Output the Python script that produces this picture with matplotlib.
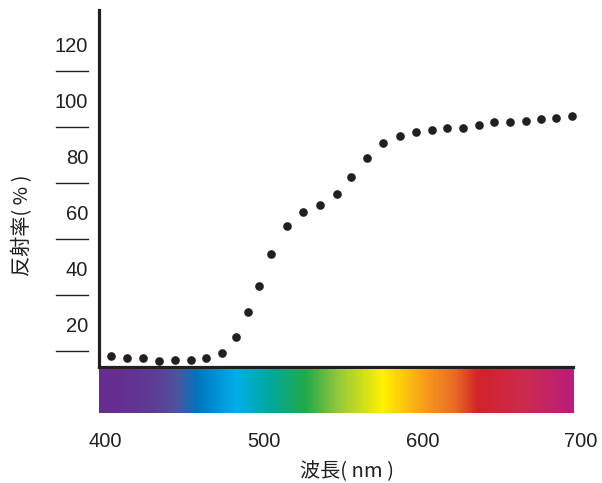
import matplotlib.pyplot as plt
import numpy as np
from matplotlib.colors import LinearSegmentedColormap
from matplotlib.transforms import blended_transform_factory

# measured reflectance (%) against wavelength (nm)
wavelength = [404, 414, 424, 434, 444, 454, 463.5, 474, 482.5, 490, 497,
              504.5, 514.5, 525, 535.5, 546, 555, 565, 575, 586, 596, 606,
              615.5, 625.5, 635.5, 645, 655.5, 665, 675, 684.5, 694]
reflectance = [8.7, 7.9, 8.1, 7.0, 7.1, 7.25, 8.1, 9.9, 15.6, 24.4, 33.8,
               45.0, 55.2, 60.0, 62.6, 66.5, 72.7, 79.3, 84.7, 87.4, 88.7,
               89.3, 90.0, 90.2, 91.1, 92.2, 92.4, 92.6, 93.2, 93.7, 94.4]

y_ticks = [20, 40, 60, 80, 100, 120]
x_ticks = [400, 500, 600, 700]

# colour band under the axis
band_nm = [394, 406, 430, 445, 457, 482, 503, 526, 545, 575, 604, 621, 635, 667, 695]
band_col = ['#662d91', '#662d91', '#5e3c94', '#4d55a0', '#0075bd', '#00aee8',
            '#00a99d', '#22a84a', '#8dc63f', '#fff200', '#f7941d', '#e86a27',
            '#d2232a', '#cb2a52', '#b91e7b']

ink = '#231f20'
cjk = ['Noto Sans CJK JP', 'DejaVu Sans']
plt.rcParams['font.family'] = ['Liberation Sans', 'DejaVu Sans']

x0, x1, xend = 396, 705, 695

fig = plt.figure(figsize=(6.02, 4.83), dpi=100)
ax = fig.add_axes([98.5 / 602, 116 / 483, (589 - 98.5) / 602, 357 / 483])
band = fig.add_axes([98.5 / 602, (483 - 413.3) / 483, (589 - 98.5) / 602, 44.8 / 483])

# spectrum band
lo, hi = band_nm[0], band_nm[-1]
cmap = LinearSegmentedColormap.from_list(
    'spec', [((w - lo) / (hi - lo), c) for w, c in zip(band_nm, band_col)])
grad = np.linspace(0, 1, 600)[None, :]
band.imshow(grad, aspect='auto', cmap=cmap, extent=[lo, hi, 0, 1])
band.set_xlim(x0, x1)
band.set_ylim(0, 1)
band.set_axis_off()

# data points
ax.plot(wavelength, reflectance, 'o', color=ink, markersize=5.2, clip_on=False)

ax.set_xlim(x0, x1)
ax.set_ylim(4.75, 132.25)
for s in ['top', 'right']:
    ax.spines[s].set_visible(False)
for s in ['left', 'bottom']:
    ax.spines[s].set_linewidth(2.3)
    ax.spines[s].set_color(ink)
ax.spines['bottom'].set_bounds(x0, xend)

ax.set_yticks(y_ticks)
ax.set_yticklabels([str(v) for v in y_ticks])
ax.set_xticks(x_ticks)
ax.set_xticklabels([str(v) for v in x_ticks])
ax.tick_params(axis='y', length=0, pad=7.5, labelsize=14.5, labelcolor=ink)
ax.tick_params(axis='x', length=0, pad=47, labelsize=14.5, labelcolor=ink)

# detached tick dashes between the labels
trans = blended_transform_factory(ax.transAxes, ax.transData)
for v in y_ticks:
    ax.plot([-0.0866, -0.0214], [v - 9.5, v - 9.5], color=ink, lw=1.0,
            transform=trans, clip_on=False)

fig.text(22.5 / 602, (483 - 225) / 483, '反射率( % )', rotation=90,
         ha='center', va='center', fontsize=14.5, color=ink, family=cjk)
fig.text(347.5 / 602, 11 / 483, '波長( nm )', ha='center', va='center',
         fontsize=14.5, color=ink, family=cjk)

fig.savefig('out.png', dpi=100)
